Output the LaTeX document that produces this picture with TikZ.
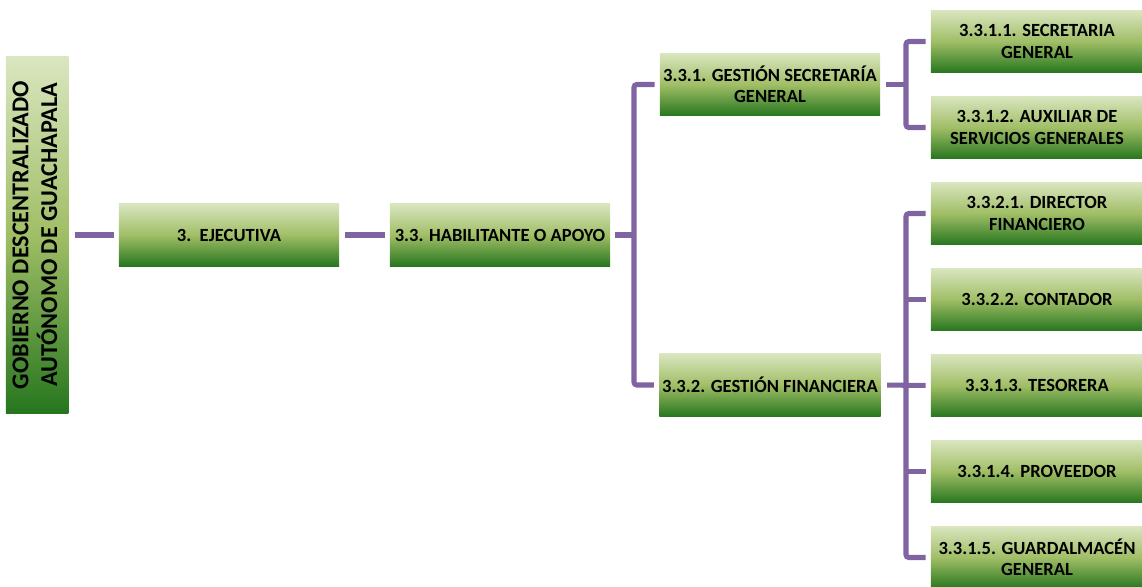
\documentclass[tikz,border=0pt]{standalone}
\usepackage{fontspec}
\setmainfont{Carlito}
\usepackage{graphicx}
\usepackage{tikz}
\definecolor{boxtop}{RGB}{218,230,192}
\definecolor{boxmid}{RGB}{160,190,102}
\definecolor{boxbot}{RGB}{38,118,30}
\definecolor{linkc}{RGB}{128,100,162}
\tikzstyle{box} = [inner sep=2pt, align=center, top color=boxtop, bottom color=boxbot, middle color=boxmid, minimum width=5.5cm, minimum height=1.57cm, font=\fontsize{13.2}{15}\selectfont\bfseries]
\tikzstyle{rbox} = [box, minimum width=5.3cm]
\tikzstyle{link} = [draw=linkc, line width=3.6pt, rounded corners=2pt]

\begin{document}
\begin{tikzpicture}[x=0.025cm, y=-0.025cm]
        \useasboundingbox (0,0) rectangle (1142,586);
        \node[box, minimum width=1.55cm, minimum height=8.9cm, font=\fontsize{17.2}{20}\selectfont\bfseries] at (37,235) (gob) {\rotatebox{90}{\begin{tabular}{@{}c@{}}GOBIERNO DESCENTRALIZADO\\AUT\'ONOMO DE GUACHAPALA\end{tabular}}};
        \node[box] at (229,235) (ejec) {3.\ \ EJECUTIVA};
        \node[box] at (500,235) (hab) {3.3. HABILITANTE O APOYO};
        \node[box] at (770,84.5) (g331) {3.3.1. GESTI\'ON SECRETAR\'IA\\GENERAL};
        \node[box] at (770,385) (g332) {3.3.2. GESTI\'ON FINANCIERA};

        \node[rbox] at (1037,41.5) (sec) {3.3.1.1. SECRETARIA\\GENERAL};
        \node[rbox] at (1037,127.5) (aux) {3.3.1.2. AUXILIAR DE\\SERVICIOS GENERALES};
        \node[rbox] at (1037,213.5) (dir) {3.3.2.1. DIRECTOR\\FINANCIERO};
        \node[rbox] at (1037,299.5) (cont) {3.3.2.2. CONTADOR};
        \node[rbox] at (1037,385.5) (tes) {3.3.1.3. TESORERA};
        \node[rbox] at (1037,471.5) (prov) {3.3.1.4. PROVEEDOR};
        \node[rbox] at (1037,557.5) (guard) {3.3.1.5. GUARDALMAC\'EN\\GENERAL};

        \coordinate (b1) at (634,235);
        \coordinate (b2) at (906,84.5);
        \coordinate (b3) at (906,385);

        \draw[link, shorten <=4.3pt, shorten >=3.6pt] (gob) -- (ejec);
        \draw[link, shorten <=4.3pt, shorten >=3.6pt] (ejec) -- (hab);
        \draw[link, shorten <=3.6pt] (hab.east) -- (b1);
        \draw[link, shorten <=3.6pt, shorten >=3.6pt] (g331.west) -| (b1) |- (g332.west);

        \draw[link, shorten <=4.3pt] (g331.east) -- (b2);
        \draw[link, shorten <=3.6pt, shorten >=3.6pt] (sec.west) -| (b2) |- (aux.west);

        \draw[link, shorten <=4.3pt, shorten >=3.6pt] (g332.east) -- (tes.west);
        \draw[link, shorten <=3.6pt, shorten >=3.6pt] (dir.west) -| (b3) |- (guard.west);
        \draw[link, shorten >=3.6pt] (b3 |- cont.west) -- (cont.west);
        \draw[link, shorten >=3.6pt] (b3 |- prov.west) -- (prov.west);

    \end{tikzpicture}
\end{document}
